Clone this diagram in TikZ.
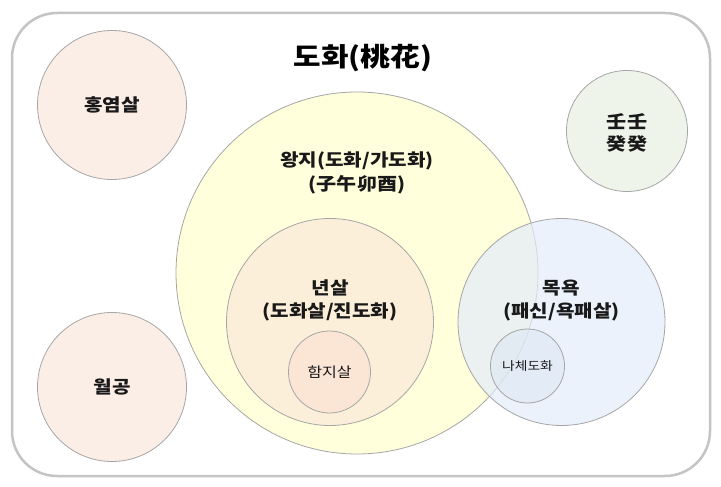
\documentclass[tikz,border=0pt]{standalone}
\usepackage{fontspec}
\setmainfont{Noto Sans CJK KR}[FakeStretch=1.15]
\definecolor{frameG}{HTML}{C4C4C4}
\definecolor{lineG}{HTML}{A6A6A6}
\definecolor{pinkF}{HTML}{FBEEE6}
\definecolor{greenF}{HTML}{EEF4EA}
\definecolor{yellowF}{HTML}{FFFFDC}
\definecolor{peachF}{HTML}{FCEFDA}
\definecolor{peach2F}{HTML}{FBE6D6}
\definecolor{blueF}{HTML}{E3ECF9}
\definecolor{blue2F}{HTML}{D9E4F3}
\tikzset{
  ring/.style={circle, draw=lineG, line width=0.8pt, inner sep=0pt},
  bigtxt/.style={font=\fontsize{17.5}{23.5}\selectfont\bfseries, align=center, text=black!90},
  smalltxt/.style={font=\fontsize{14}{18}\selectfont, align=center, text=black!90},
}
\begin{document}
\begin{tikzpicture}[x=1pt, y=-1pt]
\useasboundingbox (0,0) rectangle (721,487);
\draw[frameG, line width=2.5pt, rounded corners=45pt] (12,13) rectangle (710,476);
\node[font=\fontsize{26}{30}\selectfont\bfseries, text=black] (title) at (363,58) {도화(桃花)};
\node[ring, fill=pinkF, minimum size=149pt] (hong) at (112,105) {};
\node[bigtxt] (hongT) at (hong.center) {홍염살};
\node[ring, fill=pinkF, minimum size=149pt] (wol) at (112,387) {};
\node[bigtxt] (wolT) at (wol.center) {월공};
\node[ring, fill=greenF, minimum size=121pt] (imgye) at (627,131) {};
\node[bigtxt, font=\fontsize{17.5}{22}\selectfont\bfseries] (imgyeT) at (627,132.5) {壬壬\\癸癸};
\node[ring, fill=yellowF, minimum size=362pt] (wang) at (357,273) {};
\node[bigtxt] (wangT) at (357,173) {왕지(도화/가도화)\\(子午卯酉)};
\node[ring, fill=peachF, minimum size=207pt] (nyeon) at (330,322) {};
\node[bigtxt] (nyeonT) at (330,300.5) {년살\\(도화살/진도화)};
\node[ring, fill=peach2F, minimum size=82pt] (hamji) at (329.5,372) {};
\node[smalltxt] (hamjiT) at (hamji.center) {함지살};
\node[ring, fill=blueF, fill opacity=0.7, minimum size=207pt] (mok) at (561.5,322) {};
\node[bigtxt] (mokT) at (561.5,300.5) {목욕\\(패신/욕패살)};
\node[ring, fill=blue2F, fill opacity=0.45, minimum size=74pt] (nache) at (527.5,366) {};
\node[font=\fontsize{12}{14}\selectfont, text=black!90] (nacheT) at (nache.center) {나체도화};
\end{tikzpicture}
\end{document}
